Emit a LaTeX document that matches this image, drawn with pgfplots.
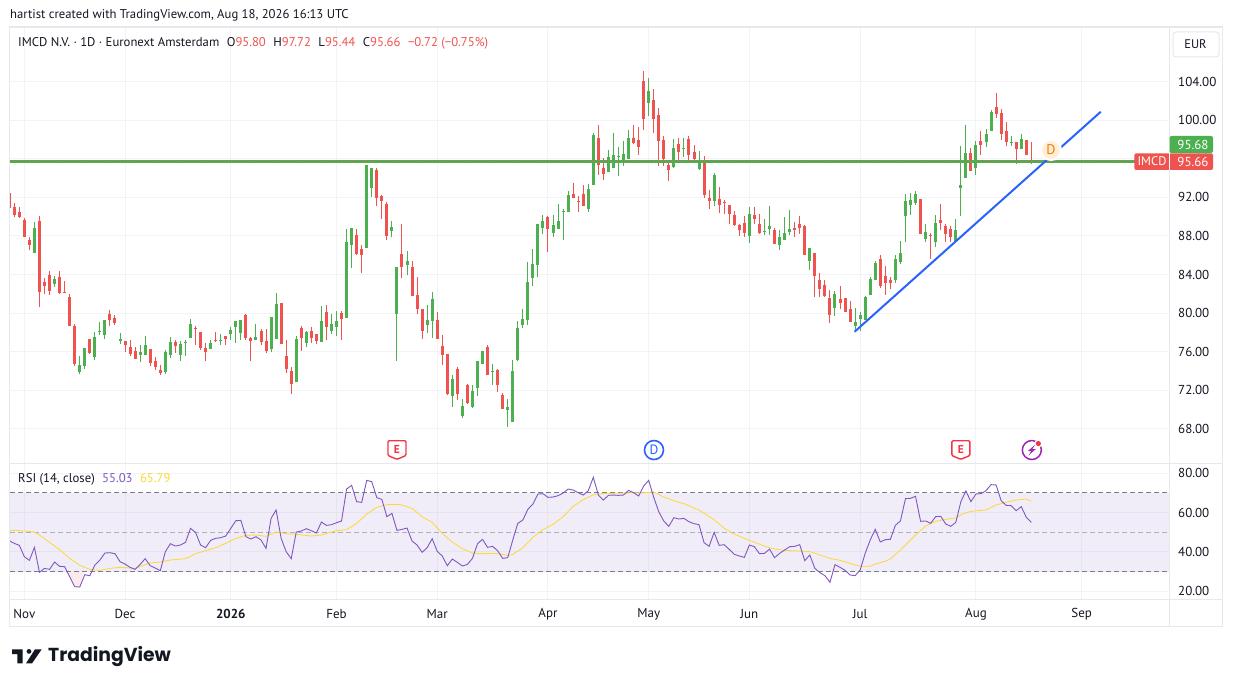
\documentclass[border=0pt]{standalone}
\usepackage{pgfplots}
\usepackage{pgfplotstable}
\usepackage{fontspec}
\pgfplotsset{compat=1.18}
\setmainfont{PT Sans}
\newfontfamily\logofont{Poppins}
\definecolor{up}{HTML}{4CAF50}
\definecolor{dn}{HTML}{EF5350}
\definecolor{ink}{HTML}{131722}
\definecolor{gridc}{HTML}{F2F3F6}
\definecolor{framec}{HTML}{E6E8EC}
\definecolor{rsi}{HTML}{7E57C2}
\definecolor{rsima}{HTML}{FDD835}
\definecolor{trend}{HTML}{2962FF}
\definecolor{band}{HTML}{787B86}
\definecolor{evred}{HTML}{F23645}
\definecolor{evpur}{HTML}{9C27B0}
\definecolor{evorg}{HTML}{F57C00}
\definecolor{evorgl}{HTML}{FFEFD9}
\pgfplotstableread{
i o h l c
0 92.41 92.41 90.93 90.93
1 91.00 91.41 90.00 90.20
2 90.48 91.00 89.86 89.96
3 89.65 89.82 87.89 87.89
4 87.58 87.86 86.54 87.06
5 86.23 89.44 86.23 88.82
6 89.55 90.07 80.64 82.19
7 83.23 83.60 81.98 82.81
8 83.95 84.37 81.88 82.30
9 83.02 83.85 82.71 83.54
10 83.75 84.37 81.98 82.09
11 82.19 83.33 82.09 82.09
12 81.67 81.98 78.67 78.67
13 78.67 78.88 74.52 74.73
14 73.90 75.56 73.69 74.63
15 74.52 76.39 74.21 76.39
16 77.32 77.32 75.77 75.87
17 75.46 78.05 75.15 77.53
18 78.05 79.08 77.74 78.15
19 77.74 79.29 77.32 79.29
20 79.91 80.33 78.67 79.29
21 79.50 79.81 78.77 78.98
22 77.11 77.94 76.80 77.32
23 77.11 77.11 75.97 76.70
24 76.49 77.22 75.56 75.77
25 76.08 76.49 75.25 75.25
26 75.66 76.70 74.94 75.97
27 75.66 77.63 75.66 76.70
28 76.28 76.28 74.52 74.83
29 75.04 75.46 74.10 74.42
30 74.10 74.63 73.59 73.80
31 73.90 76.18 73.69 75.97
32 75.66 77.53 75.35 77.01
33 77.01 77.22 75.87 76.60
34 75.66 77.11 75.04 76.80
35 76.91 77.22 75.56 77.01
36 77.42 79.39 77.42 78.88
37 78.46 78.67 76.70 78.36
38 78.05 78.05 76.18 76.39
39 76.39 76.91 75.04 75.97
40 76.28 77.22 76.28 76.91
41 77.22 78.05 77.01 77.11
42 77.15 77.84 76.70 77.22
43 77.63 77.63 76.70 77.32
44 77.84 78.57 77.22 78.26
45 78.57 79.19 76.91 79.19
46 77.94 79.29 77.22 79.29
47 79.81 79.91 77.22 77.42
48 77.42 77.53 75.04 77.11
49 77.22 78.88 77.22 77.53
50 78.15 78.36 76.70 77.01
51 77.11 78.36 75.87 76.08
52 76.28 79.60 75.97 79.60
53 77.32 82.09 77.32 80.95
54 81.05 81.05 76.80 76.80
55 75.56 77.22 73.80 74.21
56 74.00 74.42 71.62 72.66
57 72.86 77.63 72.86 77.32
58 78.46 78.67 76.08 77.42
59 76.91 78.15 76.49 78.05
60 78.15 78.57 76.91 77.42
61 77.84 77.84 76.80 77.11
62 77.01 80.74 77.01 79.19
63 80.12 80.84 77.22 78.57
64 78.15 79.91 77.84 78.88
65 78.57 80.22 77.63 79.19
66 80.02 80.22 77.22 79.39
67 79.50 88.72 79.50 87.37
68 87.06 88.82 84.68 88.82
69 88.10 88.72 86.03 86.13
70 86.65 87.06 84.16 86.03
71 86.75 95.35 86.75 95.35
72 92.97 95.04 92.03 95.04
73 94.83 95.04 91.10 91.93
74 92.14 92.24 89.75 91.62
75 91.31 91.52 87.58 87.99
76 88.51 89.55 87.89 88.93
77 79.91 84.78 75.04 84.78
78 86.13 89.24 83.64 84.78
79 84.99 86.44 83.95 85.40
80 84.78 85.40 81.78 81.78
81 81.88 83.75 79.91 80.43
82 80.43 80.43 77.32 78.15
83 78.77 80.84 77.94 79.29
84 79.19 82.19 77.42 81.47
85 79.29 80.12 77.32 77.32
86 76.60 77.74 74.63 75.66
87 75.77 75.77 71.52 71.62
88 71.41 73.59 70.28 73.18
89 74.21 74.42 71.00 71.62
90 69.34 71.10 69.14 70.38
91 72.55 72.66 70.59 70.69
92 70.28 72.55 70.17 71.93
93 72.24 75.04 71.41 75.04
94 74.73 76.08 74.73 76.08
95 76.49 76.70 73.59 73.59
96 73.90 74.73 72.55 74.00
97 74.10 74.21 71.83 72.55
98 71.52 71.72 70.07 70.07
99 69.96 71.10 68.20 70.28
100 68.72 75.15 68.72 74.00
101 75.15 79.19 75.04 78.46
102 78.77 80.43 78.46 79.39
103 79.29 85.30 78.77 83.23
104 83.64 86.65 82.81 85.09
105 84.99 89.24 83.75 89.24
106 88.82 90.17 88.20 89.55
107 89.96 90.07 86.34 88.72
108 88.30 90.17 87.89 89.13
109 88.72 91.31 88.72 89.55
110 90.48 90.79 87.58 90.58
111 90.48 92.66 90.48 92.24
112 92.35 93.49 91.93 91.93
113 91.62 92.14 90.48 91.52
114 92.35 93.28 91.10 91.10
115 90.79 93.38 90.48 92.86
116 93.27 98.67 93.27 98.46
117 98.15 99.49 94.31 95.35
118 95.04 96.07 93.80 94.42
119 94.62 96.90 94.62 96.18
120 95.04 98.67 95.04 96.39
121 96.18 97.22 94.21 96.28
122 95.56 97.84 95.25 96.49
123 95.97 98.98 95.97 98.15
124 98.15 99.49 97.53 97.63
125 97.94 99.29 96.39 97.22
126 104.05 105.09 98.98 100.12
127 101.77 104.36 100.43 103.02
128 102.09 103.22 98.67 100.12
129 100.53 101.26 95.25 97.84
130 97.94 98.35 95.25 95.97
131 95.35 95.87 93.69 94.83
132 95.14 98.04 95.04 97.11
133 97.53 98.15 95.56 96.70
134 97.01 98.15 96.18 97.11
135 98.04 98.35 95.56 96.39
136 96.70 97.42 95.66 95.97
137 94.94 96.80 94.83 95.87
138 95.76 96.28 91.93 92.24
139 91.93 92.76 90.79 91.62
140 91.62 94.52 91.10 94.31
141 91.83 93.07 90.38 91.21
142 91.52 91.72 90.27 91.41
143 91.21 91.21 89.24 90.27
144 90.17 90.58 89.03 89.13
145 89.13 89.24 87.99 88.61
146 89.34 90.07 87.89 88.30
147 87.99 91.00 87.27 90.27
148 90.17 91.00 89.24 89.75
149 89.24 90.27 88.20 88.30
150 88.44 89.75 88.10 88.51
151 88.72 91.10 88.10 89.03
152 88.61 88.82 87.16 87.16
153 87.06 88.61 86.54 87.89
154 87.58 89.96 87.58 88.30
155 88.41 90.69 88.10 88.72
156 88.82 89.44 87.89 88.61
157 89.24 90.07 88.20 88.82
158 89.03 89.13 86.02 86.02
159 85.40 86.75 84.47 86.75
160 86.23 86.23 81.67 83.85
161 83.43 84.16 81.67 82.50
162 82.91 83.43 81.67 81.77
163 81.57 82.40 78.98 79.81
164 80.53 82.29 79.70 81.98
165 81.47 82.81 80.43 81.05
166 81.57 81.57 80.12 80.12
167 80.43 81.26 79.08 79.08
168 78.67 80.53 78.05 79.08
169 79.39 80.12 78.15 79.81
170 79.29 81.77 79.29 81.67
171 81.88 83.75 81.88 83.54
172 83.43 85.40 83.43 85.20
173 85.61 86.02 82.60 82.81
174 83.85 84.88 81.88 83.12
175 83.43 83.75 82.50 83.12
176 83.43 86.02 83.12 85.61
177 85.30 87.47 85.09 86.23
178 90.07 92.35 87.37 91.62
179 91.21 92.45 90.17 91.72
180 91.41 92.66 91.21 92.35
181 91.83 91.83 88.20 88.20
182 87.68 89.24 87.37 88.41
183 88.10 88.30 85.61 87.99
184 87.37 90.17 86.85 89.34
185 89.65 91.31 88.62 89.34
186 89.03 89.24 87.37 88.20
187 88.72 89.03 87.37 87.89
188 87.47 89.75 87.37 88.62
189 92.97 97.32 90.07 93.28
190 94.00 99.50 94.00 96.59
191 96.59 97.11 94.73 94.73
192 95.04 97.84 94.31 97.42
193 97.84 98.87 96.39 97.42
194 97.73 99.08 97.22 98.56
195 98.87 101.05 98.87 100.84
196 101.36 102.81 100.22 100.63
197 100.74 101.15 97.94 98.56
198 98.87 99.81 97.32 97.73
199 97.63 98.36 97.32 97.73
200 97.73 97.73 95.45 97.01
201 97.01 98.56 97.01 98.04
202 97.94 97.94 96.39 96.39
203 95.80 97.72 95.44 95.66
}\ohlc
\pgfplotstableread{
i v
0 45.73
1 44.37
2 43.36
3 37.59
4 35.73
5 42.34
6 29.63
7 31.66
8 31.15
9 34.88
10 32.68
11 32.51
12 27.42
13 22.34
14 22.17
15 28.44
16 27.93
17 33.36
18 35.90
19 39.46
20 39.63
21 39.12
22 35.05
23 33.87
24 32.17
25 31.15
26 33.70
27 36.58
28 33.02
29 31.83
30 30.48
31 40.14
32 44.20
33 43.02
34 43.53
35 44.88
36 52.00
37 49.97
38 43.53
39 42.17
40 45.90
41 46.92
42 47.26
43 48.10
44 52.00
45 55.90
46 56.07
47 47.77
48 46.58
49 47.77
50 46.07
51 41.83
52 57.09
53 61.33
54 46.92
55 40.14
56 36.58
57 50.14
58 50.65
59 51.83
60 50.82
61 49.63
62 55.22
63 53.53
64 53.87
65 54.88
66 55.73
67 72.00
68 73.87
69 65.56
70 65.22
71 76.41
72 75.73
73 67.60
74 66.75
75 57.93
76 59.63
77 50.99
78 51.49
79 52.17
80 45.56
81 43.53
82 39.80
83 42.17
84 46.75
85 40.31
86 37.93
87 33.02
88 36.41
89 34.71
90 32.85
91 33.70
92 36.75
93 44.20
94 46.41
95 42.34
96 42.85
97 40.65
98 36.75
99 37.09
100 46.07
101 54.55
102 56.24
103 61.66
104 64.38
105 69.46
106 69.63
107 67.77
108 67.94
109 68.61
110 69.97
111 72.00
112 71.50
113 70.14
114 68.95
115 71.16
116 77.94
117 68.95
118 66.41
119 68.78
120 68.95
121 68.78
122 68.95
123 71.33
124 70.14
125 68.44
126 73.53
127 76.41
128 67.77
129 60.48
130 55.73
131 53.02
132 57.43
133 56.75
134 57.09
135 55.39
136 54.37
137 53.87
138 44.71
139 42.85
140 49.97
141 43.36
142 43.70
143 41.32
144 38.78
145 37.93
146 37.26
147 43.53
148 42.68
149 39.12
150 39.29
151 41.49
152 37.09
153 39.29
154 40.99
155 42.68
156 42.85
157 43.70
158 35.59
159 38.47
160 31.69
161 29.48
162 27.96
163 24.57
164 33.55
165 32.20
166 30.67
167 28.30
168 27.96
169 30.84
170 39.31
171 46.10
172 51.52
173 45.08
174 46.27
175 46.43
176 53.55
177 55.76
178 67.11
179 67.28
180 68.30
181 55.59
182 55.76
183 54.57
184 57.96
185 58.13
186 54.23
187 53.05
188 55.08
189 65.59
190 71.01
191 65.59
192 69.49
193 69.66
194 71.18
195 74.23
196 74.06
197 66.10
198 63.72
199 63.55
200 61.01
201 63.04
202 57.62
203 55.03
}\rsitab
\pgfplotstableread{
i v
0 50.82
1 50.99
3 50.65
5 50.14
6 48.61
8 44.88
10 41.15
12 36.75
14 33.19
16 31.15
18 30.65
20 31.66
22 32.17
24 31.83
25 31.66
26 32.68
28 34.38
30 34.88
32 35.90
35 36.58
37 39.12
39 40.65
41 42.17
43 44.37
45 46.92
47 48.44
49 48.61
51 47.93
53 50.14
55 49.29
57 48.95
60 48.10
62 48.61
65 50.82
67 51.33
69 54.55
71 59.29
73 62.68
75 64.04
77 64.21
78 63.87
80 62.17
82 57.93
84 55.05
86 49.46
88 45.05
90 41.66
92 39.46
94 39.12
96 39.29
98 38.78
99 38.10
100 38.78
102 42.17
104 47.43
106 51.33
108 54.04
110 57.93
112 63.19
114 66.58
116 69.12
118 69.80
120 69.80
122 69.97
124 70.14
126 70.14
128 70.48
130 67.94
132 66.07
134 64.55
137 61.33
140 56.41
142 52.00
144 49.12
147 45.90
150 43.02
152 41.49
154 40.82
157 40.48
159 40.16
161 38.47
163 36.77
165 35.75
167 34.23
169 32.70
171 32.70
172 33.89
174 35.25
175 36.43
177 41.01
180 48.64
182 53.21
184 55.59
186 56.60
188 57.28
189 58.98
191 60.67
194 61.35
196 63.89
198 65.25
200 66.43
202 66.94
203 65.79
}\rsimatab
% wick and body of the candles of one direction
\newcommand\candles[2]{%
 \addplot[draw=none,mark=none,forget plot,error bars/.cd,y dir=both,y explicit,error mark=none,
   error bar style={draw=#2,solid,line width=1pt}]
   table[x expr={#1?\thisrow{i}:nan},y=c,
     y error plus expr={\thisrow{h}-\thisrow{c}},y error minus expr={\thisrow{c}-\thisrow{l}}]{\ohlc};
 \addplot[draw=none,mark=none,forget plot,error bars/.cd,y dir=both,y explicit,error mark=none,
   error bar style={draw=#2,solid,line width=3pt}]
   table[x expr={#1?\thisrow{i}:nan},y=o,
     y error plus expr={max(\thisrow{c}-\thisrow{o},0)},y error minus expr={max(\thisrow{o}-\thisrow{c},0)}]{\ohlc};
}
\newcommand\earn[1]{%
 \begin{scope}[shift={(axis cs:#1,65.81)},x=1pt,y=-1pt]
  \draw[evred,fill=white,line width=1.4pt,rounded corners=1.2pt] (-9,-9.3)--(9,-9.3)--(9,5.5)--(0,9.3)--(-9,5.5)--cycle;
  \node[evred,font=\bfseries\fontsize{11.5}{11.5}\selectfont,inner sep=0pt] at (0,-1) {E};
 \end{scope}}
\pgfplotsset{tvaxis/.style={
  scale only axis,width=1159.3pt,xmin=0.146,xmax=230.4,
  axis line style={draw=none},major tick length=0pt,
  xtick={3,23,44,65,85,107,127,147,169,192,213},
  xmajorgrids,ymajorgrids,grid style={gridc,line width=1pt},
  yticklabel pos=right,
  yticklabel style={anchor=west,inner sep=0pt,xshift=8.7pt,font=\fontsize{13}{15}\selectfont,text=ink},
  /pgf/number format/fixed,/pgf/number format/fixed zerofill,/pgf/number format/precision=2,
  /pgf/number format/assume math mode=true,
  unbounded coords=discard,
}}
\begin{document}
\begin{tikzpicture}
\path[use as bounding box,fill=white] (0pt,0pt) rectangle (1233pt,-687pt);
% ---- price pane
\begin{axis}[tvaxis,at={(10pt,-463.3pt)},anchor=south west,height=436.3pt,
  ymin=64.435,ymax=109.65,ytick={68,72,...,104},xticklabels={}]
\candles{\thisrow{c}>=\thisrow{o}}{up}
\candles{\thisrow{c}<\thisrow{o}}{dn}
\addplot[up,line width=3.3pt,forget plot] coordinates {(0.146,95.70)(230.4,95.70)};
\addplot[dn,line width=1pt,dash pattern=on 1pt off 2pt,forget plot] coordinates {(0.146,95.70)(230.4,95.70)};
\addplot[trend,line width=2pt,forget plot] coordinates {(167.9,78.07)(216.8,100.87)};
% event marks
\earn{77.0}
\earn{189.0}
\begin{scope}[shift={(axis cs:128.05,65.81)},x=1pt,y=-1pt]
 \draw[trend,fill=white,line width=1.6pt] (0,0) circle (9.5pt);
 \node[trend,font=\fontsize{13.5}{13.5}\selectfont,inner sep=0pt] at (0,0) {D};
\end{scope}
\begin{scope}[shift={(axis cs:203.1,65.81)},x=1pt,y=-1pt]
 \draw[evpur,fill=white,line width=1.5pt] (0,0) circle (9.5pt);
 \fill[evpur] (3.5,-5.5)--(-4,1)--(-0.5,1)--(-3.5,5.5)--(4,-1)--(0.5,-1)--cycle;
 \fill[white] (6.5,-6.5) circle (4pt);
 \fill[evred] (6.5,-6.5) circle (2.6pt);
\end{scope}
\begin{scope}[shift={(axis cs:206.9,96.9)},x=1pt,y=-1pt]
 \fill[white] (0,0) circle (11pt);
 \fill[evorgl] (0,0) circle (9pt);
 \node[evorg,font=\fontsize{14}{14}\selectfont,inner sep=0pt] at (0,0) {D};
\end{scope}
\end{axis}
% ---- RSI pane
\begin{axis}[tvaxis,at={(10pt,-599.3pt)},anchor=south west,height=136pt,
  ymin=15.93,ymax=85.08,ytick={20,40,60,80},
  xticklabels={Nov,Dec,\textbf{2026},Feb,Mar,Apr,May,Jun,Jul,Aug,Sep},
  xticklabel style={font=\fontsize{13}{15}\selectfont,text=ink,inner sep=0pt,anchor=center,yshift=-14.5pt}]
\addplot[draw=none,fill=rsi,fill opacity=0.1,forget plot] coordinates {(0.146,30)(230.4,30)(230.4,70)(0.146,70)} --cycle;
\addplot[draw=none,fill=dn!12,forget plot] coordinates {(11.4,30)(13,22.34)(14,22.17)(14.8,30)} --cycle;
\addplot[band,line width=1pt,dash pattern=on 5pt off 3pt,forget plot] coordinates {(0.146,70)(230.4,70)};
\addplot[band!60,line width=1pt,dash pattern=on 5pt off 3pt,forget plot] coordinates {(0.146,50)(230.4,50)};
\addplot[band,line width=1pt,dash pattern=on 5pt off 3pt,forget plot] coordinates {(0.146,30)(230.4,30)};
\addplot[rsima,line width=0.8pt,forget plot] table[x=i,y=v]{\rsimatab};
\addplot[rsi,line width=0.9pt,forget plot] table[x=i,y=v]{\rsitab};
\end{axis}
% ---- chrome, text and tags
\begin{scope}[x=1pt,y=-1pt]
\draw[framec,line width=1.5pt] (9.7,26.8) rectangle (1222.7,626.3);
\draw[framec,line width=1pt] (1169.3,26.8)--(1169.3,626.3);
\draw[framec,line width=1pt] (9.7,463.3)--(1222.7,463.3);
\draw[framec,line width=1pt] (9.7,599.3)--(1222.7,599.3);
\node[anchor=west,inner sep=0pt,text=ink,font=\fontsize{12.7}{15}\selectfont] at (10,15.3) {hartist created with TradingView.com, Aug 18, 2026 16:13 UTC};
\node[anchor=west,inner sep=0pt,text=ink,font=\fontsize{12.7}{15}\selectfont] at (18,43) {IMCD N.V. · 1D · Euronext Amsterdam\hspace{7.5pt}O{\color{dn}95.80}\hspace{7.5pt}H{\color{dn}97.72}\hspace{7.5pt}L{\color{dn}95.44}\hspace{7.5pt}C{\color{dn}95.66}\hspace{7.5pt}{\color{dn}−0.72 (−0.75\%)}};
\node[anchor=west,inner sep=0pt,text=ink,font=\fontsize{12.7}{15}\selectfont] at (18,479.5) {RSI (14, close)\hspace{7.4pt}{\color{rsi}55.03}\hspace{7.4pt}{\color{rsima}65.79}};
\draw[framec,fill=white,rounded corners=3pt,line width=1pt] (1173,32) rectangle (1219,57);
\node[text=ink,inner sep=0pt,font=\fontsize{12.5}{15}\selectfont] at (1195.5,44.5) {EUR};
% price tags
\fill[up,rounded corners=2pt] (1169.5,136)--(1213,136)--(1213,153)--(1169.5,153)--cycle;
\fill[dn,rounded corners=2pt] (1134.3,153.3)--(1213,153.3)--(1213,170)--(1134.3,170)--cycle;
\draw[white,line width=0.6pt] (1169.5,153.3)--(1169.5,170);
\node[text=white,inner sep=0pt,font=\fontsize{13}{13}\selectfont] at (1193,144.5) {95.68};
\node[text=white,inner sep=0pt,font=\fontsize{13}{13}\selectfont] at (1193,161.5) {95.66};
\node[text=white,inner sep=0pt,font=\fontsize{12.5}{13}\selectfont] at (1152,161.5) {IMCD};
% logo
\fill[ink] (12,649.3)--(22.7,649.3)--(22.7,663.4)--(17.3,663.4)--(17.3,654)--(12,654)--cycle;
\fill[ink] (29,651.4) circle (2.4pt);
\fill[ink] (35,649.3)--(41.7,649.3)--(32,663.4)--(26,663.4)--cycle;
\node[anchor=west,inner sep=0pt,text=ink,font=\logofont\bfseries\fontsize{18.8}{22}\selectfont] at (48,657) {TradingView};
\end{scope}
\end{tikzpicture}
\end{document}
